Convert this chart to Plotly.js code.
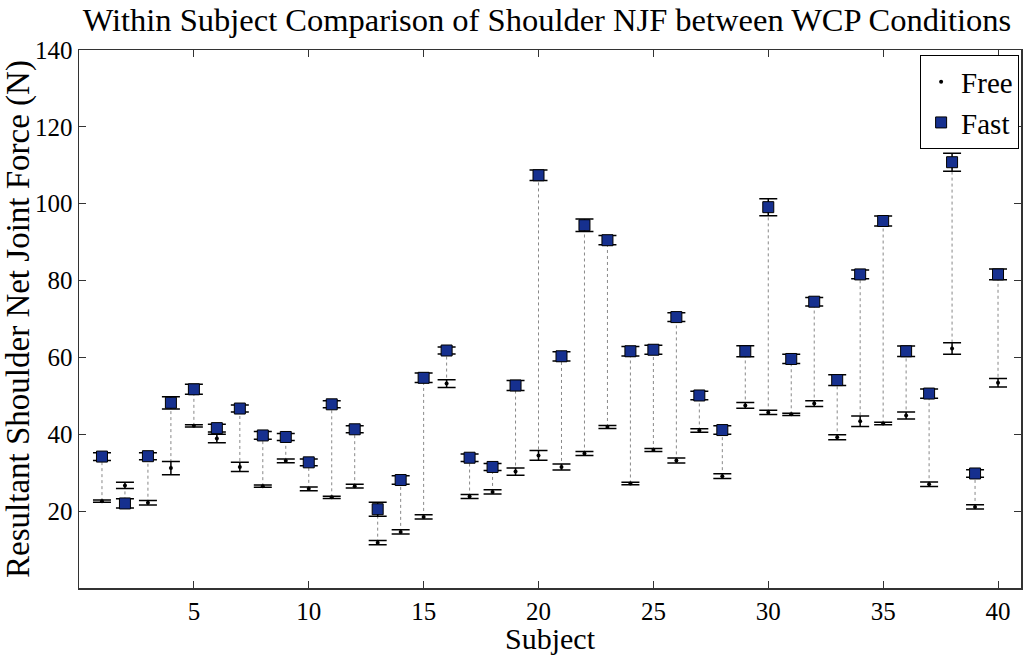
<html>
<head>
    <meta charset="UTF-8">
    <script src="https://cdn.plot.ly/plotly-3.0.1.min.js"></script>
    <style>
        body { margin: 0; background: white; }
        #plot { width: 1030px; height: 655px; }
    </style>
</head>
<body>
<div id="plot"></div>
<script>
    // subjects 1..40
    const subjects = [];
    for (let i = 1; i <= 40; i++) subjects.push(i);

    const freeMean = [22.6, 26.7, 22.2, 31.2, 42.2, 38.9, 31.5, 26.5, 33.1, 25.8,
                      23.6, 26.5, 11.8, 14.6, 18.5, 53.2, 23.8, 25.0, 30.3, 34.5,
                      31.5, 35.0, 41.9, 27.2, 35.9, 33.2, 41.0, 29.1, 47.5, 45.7,
                      45.2, 48.0, 39.2, 43.4, 42.8, 44.9, 27.0, 62.3, 21.1, 53.4];
    const freeErr = [0.3, 0.8, 0.6, 1.7, 0.3, 1.1, 1.2, 0.3, 0.5, 0.5,
                     0.3, 0.5, 0.55, 0.55, 0.55, 1.0, 0.5, 0.55, 0.95, 1.25,
                     0.8, 0.5, 0.4, 0.3, 0.4, 0.65, 0.45, 0.6, 0.75, 0.55,
                     0.3, 0.75, 0.65, 1.35, 0.3, 0.9, 0.6, 1.5, 0.55, 1.1];

    const fastMean = [34.2, 22.0, 34.3, 48.2, 51.7, 41.6, 46.7, 39.7, 39.3, 32.7,
                      47.8, 41.3, 20.5, 28.1, 54.7, 61.8, 33.9, 31.5, 52.7, 107.4,
                      60.3, 94.4, 90.5, 61.6, 62.0, 70.5, 50.1, 41.1, 61.6, 99.1,
                      59.6, 74.5, 54.1, 81.6, 95.5, 61.6, 50.6, 110.8, 29.8, 81.6];
    const fastErr = [1.0, 1.2, 0.9, 1.6, 1.3, 1.0, 0.9, 1.0, 0.9, 0.9,
                     0.9, 0.9, 1.8, 1.1, 1.25, 0.9, 1.0, 0.9, 1.3, 1.35,
                     1.2, 1.65, 1.2, 1.25, 1.15, 1.15, 1.1, 1.1, 1.45, 2.2,
                     1.2, 1.1, 1.4, 1.15, 1.3, 1.35, 1.2, 2.35, 1.0, 1.4];

    const xTicks = [5, 10, 15, 20, 25, 30, 35, 40];
    const yTicks = [20, 40, 60, 80, 100, 120, 140];

    // dotted connectors between the two conditions
    const linkX = [], linkY = [];
    subjects.forEach(function (s, i) {
        linkX.push(s, s, null);
        linkY.push(freeMean[i], fastMean[i], null);
    });

    const serif = 'Liberation Serif';

    const links = {
        x: linkX, y: linkY,
        type: 'scatter', mode: 'lines',
        line: { color: '#888888', width: 1, dash: 'dot' },
        hoverinfo: 'skip', showlegend: false
    };

    const free = {
        x: subjects, y: freeMean,
        name: 'Free',
        type: 'scatter', mode: 'markers',
        marker: { color: 'black', size: 4 },
        error_y: { type: 'data', array: freeErr, visible: true, color: 'black', thickness: 1.5, width: 9 }
    };

    const fast = {
        x: subjects, y: fastMean,
        name: 'Fast',
        type: 'scatter', mode: 'markers',
        marker: { color: '#16308f', size: 11, symbol: 'square', line: { color: 'black', width: 1 } },
        error_y: { type: 'data', array: fastErr, visible: true, color: 'black', thickness: 1.5, width: 9 }
    };

    const axisStyle = {
        showgrid: false, zeroline: false,
        showline: true, mirror: 'ticks', linecolor: '#333', linewidth: 1.5,
        ticks: 'inside', ticklen: 7, tickcolor: '#333',
        tickfont: { family: serif, size: 25, color: 'black' }
    };

    const layout = {
        width: 1030, height: 655,
        margin: { l: 79, r: 9, t: 50, b: 67 },
        paper_bgcolor: 'white', plot_bgcolor: 'white',
        title: {
            text: 'Within Subject Comparison of Shoulder NJF between WCP Conditions',
            font: { family: serif, size: 32.5, color: 'black' },
            x: 0.531, xanchor: 'center', y: 0.97, yanchor: 'middle'
        },
        xaxis: Object.assign({}, axisStyle, {
            range: [0, 41], tickvals: xTicks,
            title: { text: 'Subject', font: { family: serif, size: 30, color: 'black' }, standoff: 3 }
        }),
        yaxis: Object.assign({}, axisStyle, {
            range: [0, 140], tickvals: yTicks,
            title: { text: 'Resultant Shoulder Net Joint Force (N)', font: { family: serif, size: 33, color: 'black' }, standoff: 0 }
        }),
        legend: {
            x: 0.998, y: 0.99, xanchor: 'right', yanchor: 'top',
            bgcolor: 'white', bordercolor: 'black', borderwidth: 1,
            font: { family: serif, size: 29, color: 'black' },
            itemwidth: 30, tracegroupgap: 0
        },
        showlegend: true
    };

    Plotly.newPlot('plot', [links, free, fast], layout, { staticPlot: true });
</script>
</body>
</html>
